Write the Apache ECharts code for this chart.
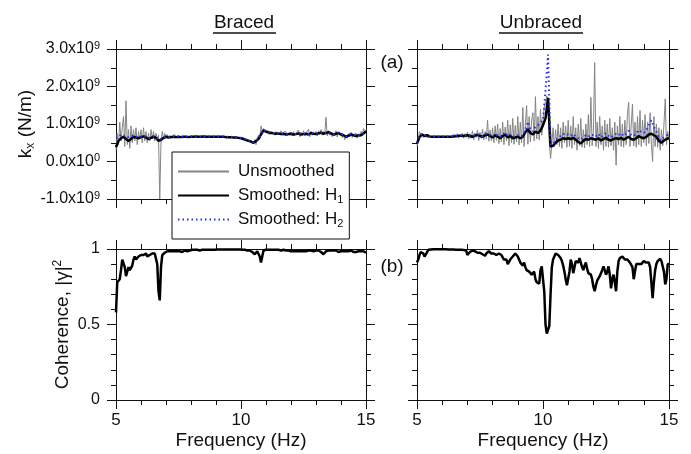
<!DOCTYPE html>
<html><head><meta charset="utf-8">
<script src="https://cdn.jsdelivr.net/npm/echarts@6/dist/echarts.min.js"></script>
<style>html,body{margin:0;padding:0;background:#fff}#c{width:691px;height:454px}</style>
</head><body><div id="c"></div>
<script>
// ---------- DATA (stiffness in units of 1e9 N/m) ----------
const FREQ_START = 5;
const RAW_STEP = 0.05;     // Hz between unsmoothed samples
const SMOOTH_STEP = 0.1;   // Hz between smoothed samples
const COH_STEP = 0.05;     // Hz between coherence samples

const bracedRaw = [
  0.30,0.75,0.45,1.05,0.55,0.90,1.20,0.40,1.62,0.45,0.85,0.35,0.95,0.50,0.85,0.55,0.90,0.45,0.80,0.60,
  0.85,0.50,0.90,0.55,0.80,0.50,0.75,0.55,0.85,0.60,0.80,0.55,0.75,0.60,0.70,-1.0,0.55,0.80,0.60,0.75,
  0.62,0.72,0.64,0.70,0.62,0.68,0.66,0.72,0.63,0.68,0.65,0.70,0.64,0.67,0.66,0.69,0.64,0.67,0.65,0.68,
  0.66,0.68,0.65,0.67,0.66,0.68,0.65,0.67,0.66,0.67,0.66,0.68,0.65,0.67,0.66,0.67,0.66,0.68,0.66,0.67,
  0.66,0.67,0.65,0.67,0.66,0.67,0.65,0.66,0.65,0.66,0.64,0.66,0.64,0.65,0.63,0.65,0.64,0.63,0.64,0.62,
  0.63,0.60,0.62,0.58,0.60,0.56,0.58,0.54,0.55,0.50,0.48,0.58,0.45,0.62,0.70,0.60,0.95,0.80,0.88,0.78,
  0.82,0.76,0.80,0.72,0.79,0.74,0.78,0.70,0.80,0.73,0.77,0.72,0.82,0.70,0.78,0.74,0.80,0.69,0.76,0.72,
  0.78,0.68,0.80,0.70,0.76,0.72,0.84,0.66,0.78,0.70,0.82,0.68,0.76,0.74,0.86,0.66,0.80,0.70,0.78,0.72,
  0.80,0.68,0.82,0.72,0.85,0.70,0.80,0.74,1.18,0.68,0.82,0.70,0.78,0.66,0.74,0.68,0.82,0.65,0.78,0.70,
  0.76,0.64,0.72,0.58,0.70,0.62,0.74,0.66,0.78,0.64,0.70,0.68,0.76,0.62,0.74,0.66,0.80,0.70,0.88,0.78,
  0.85
];
const bracedH1 = [
  0.38,0.55,0.62,0.66,0.60,0.55,0.60,0.66,0.64,0.62,
  0.65,0.67,0.64,0.60,0.63,0.66,0.63,0.55,0.58,0.63,
  0.66,0.64,0.65,0.66,0.65,0.66,0.65,0.66,0.66,0.65,
  0.66,0.66,0.67,0.66,0.66,0.67,0.66,0.66,0.66,0.66,
  0.66,0.66,0.66,0.66,0.65,0.65,0.65,0.64,0.64,0.63,
  0.62,0.60,0.57,0.55,0.53,0.50,0.55,0.60,0.72,0.83,
  0.80,0.78,0.76,0.75,0.74,0.75,0.73,0.74,0.72,0.73,
  0.74,0.72,0.73,0.75,0.72,0.73,0.74,0.72,0.76,0.74,
  0.73,0.75,0.77,0.74,0.76,0.78,0.75,0.72,0.74,0.76,
  0.72,0.70,0.66,0.69,0.72,0.70,0.68,0.70,0.70,0.75,
  0.80
];
const bracedH2 = [
  0.62,0.64,0.72,0.70,0.66,0.65,0.67,0.70,0.66,0.66,
  0.66,0.68,0.65,0.62,0.64,0.67,0.64,0.57,0.60,0.64,
  0.67,0.65,0.66,0.67,0.66,0.67,0.66,0.67,0.67,0.66,
  0.67,0.67,0.68,0.67,0.67,0.68,0.67,0.67,0.67,0.67,
  0.67,0.67,0.67,0.67,0.66,0.66,0.66,0.65,0.65,0.64,
  0.63,0.61,0.58,0.56,0.54,0.51,0.56,0.61,0.73,0.84,
  0.81,0.79,0.77,0.76,0.75,0.76,0.74,0.75,0.73,0.74,
  0.75,0.73,0.74,0.76,0.73,0.74,0.75,0.73,0.77,0.75,
  0.74,0.76,0.78,0.75,0.77,0.79,0.76,0.73,0.75,0.77,
  0.73,0.71,0.67,0.70,0.73,0.71,0.69,0.71,0.71,0.76,
  0.81
];
const unbracedRaw = [
  0.40,0.62,0.80,0.66,0.76,0.64,0.72,0.66,0.70,0.64,0.68,0.65,0.68,0.64,0.67,0.65,0.68,0.64,0.67,0.65,
  0.67,0.65,0.68,0.64,0.69,0.65,0.68,0.64,0.70,0.66,0.72,0.64,0.74,0.62,0.72,0.66,0.76,0.62,0.74,0.64,
  0.78,0.60,0.74,0.62,0.82,0.58,0.76,0.64,0.84,0.56,0.78,0.62,0.86,0.58,0.80,0.60,1.10,0.54,0.84,0.56,
  0.90,0.50,0.95,0.56,1.00,0.48,0.88,0.52,1.05,0.45,0.92,0.55,1.10,0.42,0.98,0.50,1.15,0.46,0.96,0.52,
  1.20,0.44,1.05,0.50,1.44,0.40,1.00,1.49,0.46,1.20,0.52,1.10,1.30,0.55,1.73,0.60,1.20,0.58,1.40,0.70,
  1.10,1.45,1.60,1.75,1.50,0.50,0.08,0.45,0.90,0.40,0.85,0.45,1.00,0.40,0.90,0.35,1.05,0.50,0.95,0.38,
  1.10,0.40,0.95,0.35,1.20,0.45,0.90,0.30,1.00,0.42,1.15,0.38,0.85,0.36,1.00,0.45,1.25,0.40,1.71,0.42,
  0.80,2.64,0.40,1.05,0.35,1.20,0.45,0.95,0.30,1.10,0.40,1.00,0.38,1.15,0.42,0.90,0.30,1.05,-0.10,0.95,
  0.45,1.20,0.40,1.00,0.38,1.10,0.45,1.25,1.58,0.40,0.95,1.53,0.42,1.05,0.38,1.20,0.45,1.36,0.40,1.10,
  0.50,1.25,0.42,1.05,0.48,1.30,0.45,0.00,1.20,0.40,1.00,0.38,0.90,0.30,0.85,0.42,1.00,1.67,0.45,0.80,
  0.60
];
const unbracedH1 = [
  0.48,0.65,0.72,0.68,0.70,0.67,0.66,0.66,0.66,0.66,
  0.66,0.66,0.66,0.66,0.66,0.67,0.68,0.69,0.68,0.69,
  0.70,0.68,0.66,0.69,0.71,0.68,0.66,0.70,0.72,0.68,
  0.64,0.70,0.66,0.62,0.68,0.72,0.64,0.68,0.62,0.64,
  0.66,0.62,0.66,0.78,0.86,0.76,0.72,0.80,0.76,0.82,
  0.97,1.15,1.70,0.40,0.42,0.50,0.56,0.58,0.62,0.60,
  0.62,0.60,0.63,0.58,0.52,0.48,0.55,0.60,0.58,0.62,
  0.60,0.58,0.62,0.56,0.60,0.63,0.58,0.56,0.60,0.62,
  0.60,0.63,0.58,0.62,0.66,0.60,0.58,0.62,0.68,0.64,
  0.62,0.66,0.72,0.74,0.70,0.66,0.55,0.50,0.56,0.60,
  0.62
];
const unbracedH2 = [
  0.50,0.68,0.74,0.70,0.70,0.68,0.67,0.67,0.67,0.67,
  0.67,0.67,0.67,0.67,0.67,0.68,0.69,0.70,0.69,0.70,
  0.71,0.69,0.67,0.70,0.73,0.69,0.67,0.72,0.75,0.70,
  0.66,0.73,0.70,0.65,0.72,0.78,0.68,0.72,0.66,0.68,
  0.70,0.66,0.70,0.84,1.06,0.85,0.80,0.92,0.96,1.05,
  1.10,1.90,2.85,0.45,0.48,0.56,0.64,0.68,0.74,0.70,
  0.72,0.68,0.74,0.66,0.62,0.58,0.64,0.70,0.66,0.72,
  0.70,0.66,0.74,0.64,0.70,0.76,0.68,0.64,0.70,0.74,
  0.70,0.76,0.68,0.74,0.82,0.70,0.68,0.74,0.84,0.78,
  0.76,0.82,0.98,1.10,0.92,0.80,0.62,0.56,0.66,0.70,
  0.72
];
const bracedCoh = [
  0.58,0.78,0.79,0.80,0.86,0.93,0.94,0.88,0.82,0.85,0.88,0.86,0.85,0.89,0.93,0.95,0.93,0.93,0.95,0.96,
  0.96,0.95,0.96,0.97,0.97,0.95,0.94,0.96,0.97,0.97,0.975,0.97,0.96,0.90,0.72,0.66,0.88,0.96,0.97,0.975,
  0.98,0.985,0.98,0.985,0.98,0.985,0.99,0.985,0.98,0.985,0.99,0.985,0.985,0.98,0.985,0.99,0.99,0.985,0.99,0.99,
  0.995,0.995,0.99,0.995,0.995,0.995,0.995,0.99,0.995,0.995,0.995,0.995,0.995,0.995,0.995,0.995,0.995,0.995,0.995,0.995,
  0.996,0.996,0.996,0.996,0.996,0.996,0.996,0.996,0.996,0.996,0.996,0.996,0.996,0.996,0.996,0.996,0.996,0.996,0.996,0.996,
  0.995,0.995,0.995,0.995,0.995,0.99,0.99,0.99,0.985,0.98,0.97,0.965,0.975,0.985,0.98,0.95,0.91,0.95,0.99,0.995,
  0.995,0.995,0.995,0.995,0.995,0.995,0.995,0.995,0.995,0.99,0.995,0.995,0.99,0.995,0.995,0.995,0.99,0.995,0.99,0.99,
  0.985,0.98,0.985,0.98,0.985,0.99,0.985,0.98,0.985,0.99,0.985,0.98,0.985,0.99,0.99,0.985,0.99,0.99,0.985,0.99,
  0.99,0.985,0.99,0.985,0.98,0.97,0.965,0.975,0.985,0.99,0.99,0.985,0.99,0.985,0.99,0.985,0.99,0.985,0.98,0.985,
  0.985,0.98,0.985,0.99,0.985,0.98,0.985,0.98,0.99,0.985,0.98,0.985,0.98,0.975,0.985,0.98,0.985,0.98,0.985,0.975,
  0.975
];
const unbracedCoh = [
  0.91,0.93,0.96,0.98,0.985,0.97,0.95,0.95,0.98,0.995,0.995,0.997,0.998,0.998,0.998,0.998,0.998,0.998,0.998,0.998,
  0.998,0.998,0.998,0.998,0.997,0.997,0.997,0.996,0.996,0.996,0.995,0.995,0.995,0.995,0.995,0.995,0.994,0.993,0.992,0.99,
  0.96,0.95,0.98,0.99,0.99,0.985,0.985,0.98,0.975,0.97,0.975,0.97,0.965,0.96,0.955,0.97,0.98,0.985,0.98,0.97,
  0.97,0.97,0.965,0.96,0.965,0.97,0.965,0.96,0.95,0.93,0.92,0.93,0.90,0.91,0.93,0.94,0.95,0.96,0.97,0.96,
  0.95,0.93,0.91,0.90,0.89,0.91,0.88,0.86,0.87,0.85,0.86,0.83,0.82,0.85,0.80,0.78,0.79,0.77,0.86,0.885,
  0.80,0.72,0.50,0.44,0.45,0.49,0.70,0.88,0.93,0.95,0.97,0.965,0.96,0.95,0.94,0.92,0.89,0.85,0.80,0.76,
  0.75,0.85,0.93,0.90,0.84,0.88,0.92,0.93,0.91,0.94,0.93,0.88,0.86,0.89,0.91,0.87,0.84,0.85,0.83,0.80,
  0.75,0.72,0.76,0.79,0.80,0.82,0.84,0.86,0.885,0.86,0.83,0.85,0.885,0.83,0.74,0.80,0.83,0.78,0.72,0.85,
  0.92,0.94,0.945,0.95,0.94,0.93,0.92,0.93,0.92,0.91,0.91,0.88,0.80,0.79,0.90,0.91,0.90,0.91,0.90,0.91,
  0.92,0.92,0.91,0.90,0.91,0.88,0.78,0.675,0.78,0.86,0.90,0.92,0.93,0.935,0.92,0.91,0.85,0.765,0.80,0.90,
  0.90
];
const panelTitles = ['Braced', 'Unbraced'];
const panelTags = ['(a)', '(b)'];
const legendNames = ['Unsmoothed', 'Smoothed: H1', 'Smoothed: H2'];

// ---------- CHART ----------
const FONT = 'Liberation Sans, Arial, sans-serif';
const INK = '#111';
const pairs = (arr, step) => arr.map((v, i) => [FREQ_START + i * step, v]);

const grids = [
  {left: 116, top: 49, width: 250, height: 150},
  {left: 417, top: 49, width: 252, height: 150},
  {left: 116, top: 249, width: 250, height: 151},
  {left: 417, top: 249, width: 252, height: 151}
].map(g => Object.assign({outerBoundsMode: 'none', containLabel: false}, g));

function xAx(g, pos, labels) {
  const a = {
    type: 'value', gridIndex: g, position: pos, min: 5, max: 15, interval: 5,
    axisLine: {onZero: false, lineStyle: {color: INK, width: 1}},
    axisTick: {show: true, length: 9, lineStyle: {color: INK, width: 1}},
    minorTick: {show: true, splitNumber: 5, length: 5, lineStyle: {color: INK, width: 1}},
    splitLine: {show: false}, minorSplitLine: {show: false},
    axisLabel: {show: labels, color: INK, fontFamily: FONT, fontSize: 17, margin: 12, showMinLabel: true, showMaxLabel: true}
  };
  if (labels) {
    a.name = 'Frequency (Hz)'; a.nameLocation = 'middle'; a.nameGap = 31;
    a.nameTextStyle = {color: INK, fontFamily: FONT, fontSize: 19};
  }
  return a;
}
function kLabel(v) {
  if (Math.abs(v) < 1e-9) return '0.0x10{sup|0}';
  return v.toFixed(1) + 'x10{sup|9}';
}
function yAx(g, pos, labels, top) {
  const a = {
    type: 'value', gridIndex: g, position: pos,
    min: top ? -1 : 0, max: top ? 3 : 1, interval: top ? 1 : 0.5,
    axisLine: {onZero: false, lineStyle: {color: INK, width: 1}},
    axisTick: {show: true, length: 9, lineStyle: {color: INK, width: 1}},
    minorTick: {show: true, splitNumber: top ? 2 : 5, length: 5, lineStyle: {color: INK, width: 1}},
    splitLine: {show: false}, minorSplitLine: {show: false},
    axisLabel: {
      show: labels, color: INK, fontFamily: FONT, fontSize: 16, margin: 16, lineHeight: 18,
      showMinLabel: true, showMaxLabel: true,
      formatter: top ? kLabel : (v => String(v)),
      rich: {sup: {fontSize: 11, lineHeight: 11, verticalAlign: 'top', color: INK, fontFamily: FONT}}
    }
  };
  if (labels) {
    a.nameLocation = 'middle';
    a.nameTextStyle = {color: INK, fontFamily: FONT, fontSize: 19, lineHeight: 22,
      rich: {sub: {fontSize: 12, lineHeight: 12, verticalAlign: 'bottom', color: INK, fontFamily: FONT},
             sup: {fontSize: 12, lineHeight: 12, verticalAlign: 'top', color: INK, fontFamily: FONT}}};
    if (top) { a.name = 'k{sub|x} (N/m)'; a.nameGap = 78; }
    else { a.name = 'Coherence, |γ|{sup|2}'; a.nameGap = 38; }
  }
  return a;
}

const xAxis = [], yAxis = [];
for (let g = 0; g < 4; g++) {
  const bottomRow = g >= 2, leftCol = g % 2 === 0;
  xAxis.push(xAx(g, 'bottom', bottomRow));
  xAxis.push(xAx(g, 'top', false));
  yAxis.push(yAx(g, 'left', leftCol, !bottomRow));
  yAxis.push(yAx(g, 'right', false, !bottomRow));
}

function rawSeries(g, arr) {
  return {name: legendNames[0], type: 'line', xAxisIndex: 2 * g, yAxisIndex: 2 * g, data: pairs(arr, RAW_STEP),
    symbol: 'none', lineStyle: {color: '#858585', width: 1}, itemStyle: {color: '#858585'}, z: 2, animation: false};
}
function h1Series(g, arr) {
  return {name: legendNames[1], type: 'line', xAxisIndex: 2 * g, yAxisIndex: 2 * g, data: pairs(arr, SMOOTH_STEP),
    symbol: 'none', lineStyle: {color: '#000', width: 2.5}, itemStyle: {color: '#000'}, z: 3, animation: false};
}
function h2Series(g, arr) {
  return {name: legendNames[2], type: 'line', xAxisIndex: 2 * g, yAxisIndex: 2 * g, data: pairs(arr, SMOOTH_STEP),
    symbol: 'none', lineStyle: {color: '#2233ee', width: 2, type: [1.5, 3]}, itemStyle: {color: '#2233ee'}, z: 4, animation: false};
}
function cohSeries(g, arr) {
  return {name: 'Coherence', type: 'line', xAxisIndex: 2 * g, yAxisIndex: 2 * g, data: pairs(arr, COH_STEP),
    symbol: 'none', lineStyle: {color: '#000', width: 2.5}, z: 3, animation: false};
}

const series = [
  rawSeries(0, bracedRaw), h1Series(0, bracedH1), h2Series(0, bracedH2),
  rawSeries(1, unbracedRaw), h1Series(1, unbracedH1), h2Series(1, unbracedH2),
  cohSeries(2, bracedCoh), cohSeries(3, unbracedCoh)
];

const textEl = (x, y, t, size) => ({type: 'text', x, y, z: 10,
  style: {text: t, font: size + 'px ' + FONT, fill: INK, align: 'center', verticalAlign: 'middle',
          textAlign: 'center', textVerticalAlign: 'middle'}});
const ul = (x1, x2, y) => ({type: 'line', z: 10, shape: {x1, y1: y, x2, y2: y}, style: {stroke: INK, lineWidth: 1.3}});

const option = {
  backgroundColor: '#fff',
  animation: false,
  grid: grids,
  xAxis, yAxis, series,
  legend: {
    data: legendNames, orient: 'vertical', left: 172, top: 152,
    backgroundColor: '#fff', borderColor: INK, borderWidth: 1, borderRadius: 0,
    padding: [10, 6, 10, 5], itemWidth: 51, itemHeight: 14, itemGap: 5,
    selectedMode: false,
    itemStyle: {opacity: 0},
    textStyle: {color: INK, fontFamily: FONT, fontSize: 17, lineHeight: 19, padding: [0, 0, 0, 4],
      rich: {sub: {fontSize: 11, lineHeight: 11, verticalAlign: 'bottom', color: INK, fontFamily: FONT}}},
    formatter: n => n.replace(/H(\d)$/, 'H{sub|$1}')
  },
  graphic: [
    textEl(244, 23, panelTitles[0], 19), ul(213, 276, 33),
    textEl(541, 23, panelTitles[1], 19), ul(499, 583, 33),
    textEl(392, 63, panelTags[0], 19),
    textEl(392, 267, panelTags[1], 19)
  ]
};

const chart = echarts.init(document.getElementById('c'), null, {renderer: 'canvas'});
chart.setOption(option);
</script>
</body></html>
